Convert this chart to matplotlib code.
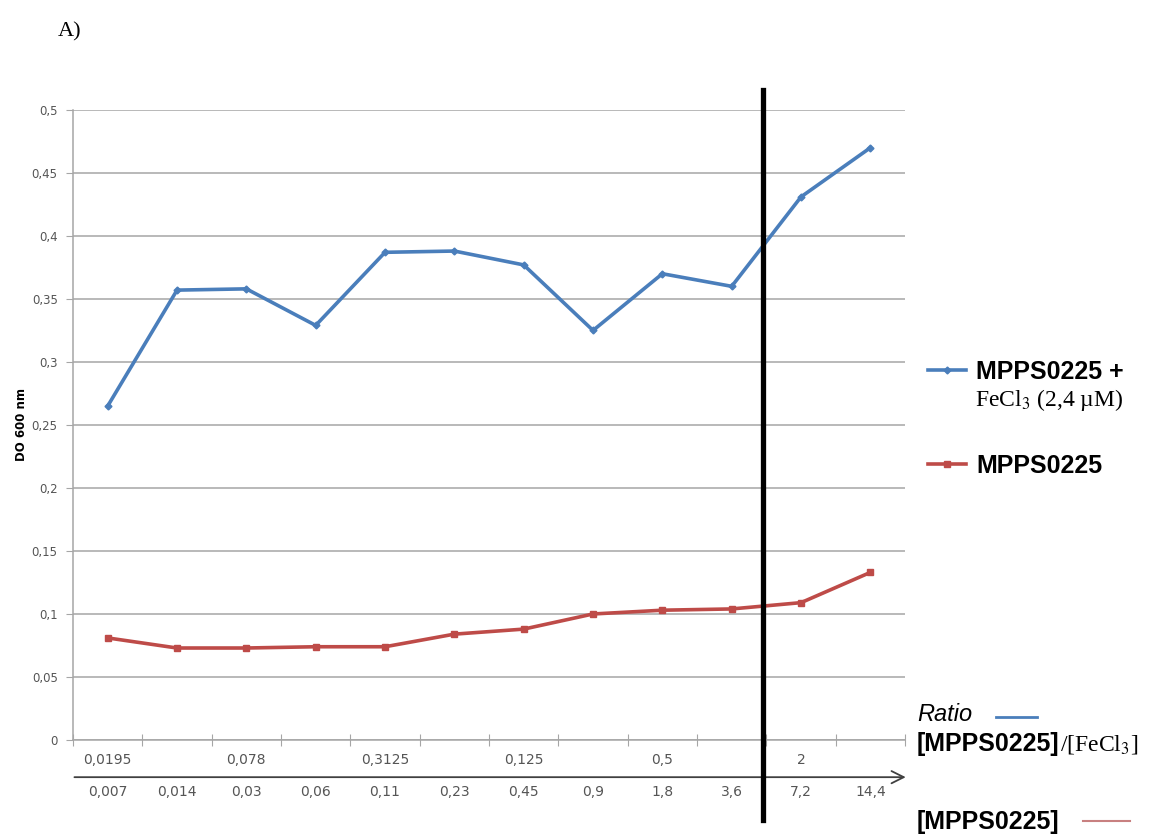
import matplotlib
matplotlib.use('Agg')
import matplotlib.pyplot as plt
from matplotlib.lines import Line2D
import numpy as np

# concentrations [MPPS0225] (lower row) and ratio labels (upper row)
conc = ['0,007', '0,014', '0,03', '0,06', '0,11', '0,23', '0,45', '0,9', '1,8', '3,6', '7,2', '14,4']
ratio = ['0,0195', '', '0,078', '', '0,3125', '', '0,125', '', '0,5', '', '2', '']

# DO 600 nm
do_fecl3 = [0.265, 0.357, 0.358, 0.329, 0.387, 0.388, 0.377, 0.325, 0.370, 0.360, 0.431, 0.470]
do_mpps = [0.081, 0.073, 0.073, 0.074, 0.074, 0.084, 0.088, 0.100, 0.103, 0.104, 0.109, 0.133]

blue = '#4a7ebb'
red = '#be4b48'
grey = '#555555'

fig = plt.figure(figsize=(11.5, 8.39), dpi=100)
ax = fig.add_axes([0.0635, 0.118, 0.7235, 0.751])

x = np.arange(len(conc))
l1, = ax.plot(x, do_fecl3, color=blue, lw=2.6, marker='D', ms=3.5, zorder=3)
l2, = ax.plot(x, do_mpps, color=red, lw=2.6, marker='s', ms=5, zorder=3)

ax.set_xlim(-0.5, len(conc) - 0.5)
ax.set_ylim(0, 0.5)
ax.set_yticks(np.arange(0, 0.501, 0.05))
ax.set_yticklabels(['0', '0,05', '0,1', '0,15', '0,2', '0,25', '0,3', '0,35', '0,4', '0,45', '0,5'],
                   fontsize=8.5, color=grey)
ax.yaxis.grid(True, color='#a6a6a6', lw=1.1)
ax.set_axisbelow(True)
ax.tick_params(axis='y', length=5, color='#a6a6a6', pad=6)

# category boundary ticks
ax.set_xticks(np.arange(-0.5, len(conc), 1.0))
ax.set_xticklabels([])
ax.tick_params(axis='x', direction='inout', length=8, color='#a6a6a6')

for s in ['top', 'right']:
    ax.spines[s].set_visible(False)
ax.spines['left'].set_color('#a6a6a6')
ax.spines['bottom'].set_color('#a6a6a6')
ax.spines['left'].set_linewidth(1.1)
ax.spines['bottom'].set_linewidth(1.1)

tr = ax.get_xaxis_transform()
for i, lab in enumerate(ratio):
    if lab:
        ax.text(i, -0.032, lab, transform=tr, ha='center', va='center', fontsize=10, color=grey)
for i, lab in enumerate(conc):
    ax.text(i, -0.083, lab, transform=tr, ha='center', va='center', fontsize=10, color=grey)

# second axis line with arrow
ax.annotate('', xy=(11.55, -0.059), xytext=(-0.52, -0.059), xycoords=tr, textcoords=tr,
            arrowprops=dict(arrowstyle='->', color='#404040', lw=1.3, mutation_scale=22),
            annotation_clip=False)

# thick vertical separator
ax.plot([9.45, 9.45], [-0.127, 1.032], transform=tr, color='black', lw=3.8, clip_on=False, zorder=5)

ax.set_ylabel('DO 600 nm', fontsize=8.5, fontweight='bold')
ax.yaxis.set_label_coords(-0.054, 0.5)

fig.text(0.050, 0.962, 'A)', fontsize=16, family='Liberation Serif', va='center')

# legend
leg = ax.legend([l1, l2], ['MPPS0225 +', 'MPPS0225'], loc='upper left',
                bbox_to_anchor=(0.787, 0.598), bbox_transform=fig.transFigure,
                frameon=False, handlelength=1.55, handletextpad=0.4, labelspacing=2.8,
                prop={'family': 'Liberation Sans', 'weight': 'bold', 'size': 18})
fig.text(0.848, 0.523, 'FeCl$_3$ (2,4 \u00b5M)', fontsize=17, family='Liberation Serif',
         va='center', math_fontfamily='stix')

# bottom-right key
fig.text(0.798, 0.148, 'Ratio', fontsize=17, style='italic', family='Liberation Sans', va='center')
fig.add_artist(Line2D([0.866, 0.902], [0.146, 0.146], color=blue, lw=2))
fig.text(0.797, 0.113, '[MPPS0225]', fontsize=18, fontweight='bold', family='Liberation Sans', va='center')
fig.text(0.9215, 0.113, '/[FeCl$_3$]', fontsize=17, family='Liberation Serif', va='center',
         math_fontfamily='stix')
fig.text(0.797, 0.020, '[MPPS0225]', fontsize=18, fontweight='bold', family='Liberation Sans', va='center')
fig.add_artist(Line2D([0.942, 0.983], [0.021, 0.021], color='#c88080', lw=1.5))

fig.savefig('out.png', dpi=100)
